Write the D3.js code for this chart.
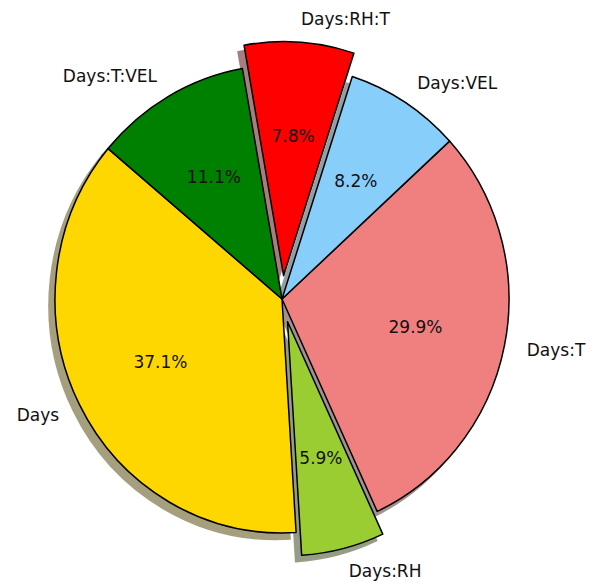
<!DOCTYPE html>
<html>
<head>
<meta charset="utf-8">
<script src="https://cdn.jsdelivr.net/npm/d3@7"></script>
<style>
  html, body { margin: 0; padding: 0; background: #fff; }
  svg { display: block; }
  text { font-family: "DejaVu Sans", sans-serif; }
</style>
</head>
<body>
<script>
const labels = ["Days", "Days:RH", "Days:T", "Days:VEL", "Days:RH:T", "Days:T:VEL"];
const values = [37.1, 5.9, 29.9, 8.2, 7.8, 11.1];
const colors = ["#FFD700", "#9ACD32", "#F08080", "#87CEFA", "#FF0000", "#008000"];
const explode = [0, 0.1, 0, 0, 0.1, 0];
const startAngleDeg = 140; // matplotlib start angle, counterclockwise

const W = 596, H = 585;
const cx = 282, cy = 299;
const rx = 227, ry = 234;
const shadowDx = -6, shadowDy = 6.5;

const svg = d3.select("body").append("svg").attr("width", W).attr("height", H);

const toRad = d => d * Math.PI / 180;
const pie = d3.pie().sort(null).value(d => d)
  .startAngle(toRad(90 - startAngleDeg))
  .endAngle(toRad(90 - startAngleDeg - 360));
const arcs = pie(values);
const arc = d3.arc().innerRadius(0).outerRadius(rx);
const sy = ry / rx;

function offset(d, i) {
  const m = (d.startAngle + d.endAngle) / 2;
  return [explode[i] * rx * Math.sin(m), -explode[i] * ry * Math.cos(m)];
}

function shadowColor(c) {
  const rgb = d3.rgb(c);
  return d3.rgb(rgb.r * 0.3, rgb.g * 0.3, rgb.b * 0.3).toString();
}

// shadows first (behind all wedges)
const gShadow = svg.append("g");
arcs.forEach((d, i) => {
  const [ox, oy] = offset(d, i);
  gShadow.append("path")
    .attr("d", arc(d))
    .attr("transform", `translate(${cx + ox + shadowDx},${cy + oy + shadowDy}) scale(1,${sy})`)
    .attr("fill", shadowColor(colors[i]))
    .attr("stroke", shadowColor(colors[i]))
    .attr("stroke-width", 1.5)
    .attr("vector-effect", "non-scaling-stroke")
    .attr("opacity", 0.5);
});

const gW = svg.append("g");
arcs.forEach((d, i) => {
  const [ox, oy] = offset(d, i);
  gW.append("path")
    .attr("d", arc(d))
    .attr("transform", `translate(${cx + ox},${cy + oy}) scale(1,${sy})`)
    .attr("fill", colors[i])
    .attr("stroke", "#000")
    .attr("stroke-width", 1.5)
    .attr("stroke-linejoin", "round")
    .attr("vector-effect", "non-scaling-stroke");
});

const gT = svg.append("g");
arcs.forEach((d, i) => {
  const [ox, oy] = offset(d, i);
  const m = (d.startAngle + d.endAngle) / 2;
  const ux = Math.sin(m), uy = -Math.cos(m);
  const lx = cx + ox + 1.1 * rx * ux;
  const ly = cy + oy + 1.1 * ry * uy;
  gT.append("text")
    .attr("x", lx).attr("y", ly)
    .attr("text-anchor", ux >= 0 ? "start" : "end")
    .attr("dominant-baseline", "central")
    .attr("font-size", 17)
    .attr("fill", "#111")
    .text(labels[i]);
  const px = cx + ox + 0.6 * rx * ux;
  const py = cy + oy + 0.6 * ry * uy;
  gT.append("text")
    .attr("x", px).attr("y", py)
    .attr("text-anchor", "middle")
    .attr("dominant-baseline", "central")
    .attr("font-size", 17)
    .attr("fill", "#111")
    .text(d3.format(".1f")(values[i]) + "%");
});
</script>
</body>
</html>
